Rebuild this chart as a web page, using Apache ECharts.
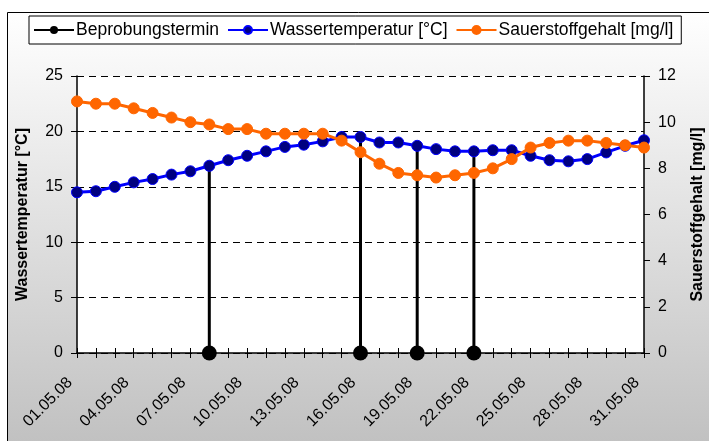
<!DOCTYPE html>
<html>
<head>
<meta charset="utf-8">
<script src="https://cdn.jsdelivr.net/npm/echarts@6/dist/echarts.min.js"></script>
<style>
  html, body { margin: 0; padding: 0; }
  #main { width: 709px; height: 441px; }
</style>
</head>
<body>
<div id="main"></div>
<script>
// Datum (Kategorien)
var dates = ['01.05.08','02.05.08','03.05.08','04.05.08','05.05.08','06.05.08','07.05.08','08.05.08',
  '09.05.08','10.05.08','11.05.08','12.05.08','13.05.08','14.05.08','15.05.08','16.05.08',
  '17.05.08','18.05.08','19.05.08','20.05.08','21.05.08','22.05.08','23.05.08','24.05.08',
  '25.05.08','26.05.08','27.05.08','28.05.08','29.05.08','30.05.08','31.05.08'];

// Wassertemperatur [°C]
var temp = [14.5, 14.6, 15.0, 15.4, 15.7, 16.1, 16.4, 16.9, 17.4, 17.8, 18.2, 18.6, 18.8, 19.1, 19.5, 19.5,
  19.0, 19.0, 18.7, 18.4, 18.2, 18.2, 18.3, 18.3, 17.8, 17.4, 17.3, 17.5, 18.1, 18.7, 19.2];

// Sauerstoffgehalt [mg/l]
var oxy = [10.9, 10.8, 10.8, 10.6, 10.4, 10.2, 10.0, 9.9, 9.7, 9.7, 9.5, 9.5, 9.5, 9.5, 9.2, 8.7,
  8.2, 7.8, 7.7, 7.6, 7.7, 7.8, 8.0, 8.4, 8.9, 9.1, 9.2, 9.2, 9.1, 9.0, 8.9];

// Beprobungstermine
var samples = ['08.05.08', '16.05.08', '19.05.08', '22.05.08'];

var sampleDots = dates.map(function (d) { return samples.indexOf(d) >= 0 ? 0 : null; });
var sampleBars = dates.map(function (d, i) { return samples.indexOf(d) >= 0 ? temp[i] : null; });

var myChart = echarts.init(document.getElementById('main'));

var font = 'Liberation Sans, Arial, sans-serif';

var option = {
  animation: false,
  graphic: [{
    type: 'rect',
    z: -10,
    silent: true,
    shape: { x: 7.5, y: 12.5, width: 720, height: 450 },
    style: {
      fill: {
        type: 'linear', x: 0, y: 0, x2: 0, y2: 1,
        colorStops: [{ offset: 0, color: '#ffffff' }, { offset: 1, color: '#bebebe' }]
      },
      stroke: '#000',
      lineWidth: 1
    }
  }],
  legend: {
    left: 29,
    top: 16,
    width: 657,
    height: 30,
    padding: [5, 8, 5, 4],
    backgroundColor: '#fff',
    borderColor: '#000',
    borderWidth: 1,
    borderRadius: 0,
    itemWidth: 40,
    itemHeight: 10,
    itemGap: 8,
    textStyle: { fontFamily: font, fontSize: 17.5, color: '#000', padding: [0, 0, 0, -3] },
    data: ['Beprobungstermin', 'Wassertemperatur [°C]', 'Sauerstoffgehalt [mg/l]']
  },
  grid: {
    left: 77, right: 65, top: 76, bottom: 88,
    outerBoundsMode: 'none',
    containLabel: false,
    show: true, backgroundColor: '#fff', borderWidth: 0
  },
  xAxis: [{
    type: 'category',
    data: dates,
    boundaryGap: false,
    axisLine: { lineStyle: { color: '#000', width: 1.5 } },
    axisTick: { interval: 0, length: 5, lineStyle: { color: '#000' } },
    axisLabel: {
      interval: 2, rotate: 45, margin: 20, padding: [0, 10, 0, 0],
      fontFamily: font, fontSize: 16, color: '#000'
    },
    splitLine: { show: false }
  }, {
    type: 'category',
    data: dates,
    boundaryGap: false,
    position: 'bottom',
    axisLine: { show: false },
    axisTick: { interval: 0, inside: true, length: 5, lineStyle: { color: '#000' } },
    axisLabel: { show: false },
    splitLine: { show: false }
  }],
  yAxis: [{
    type: 'value',
    min: 0, max: 25, interval: 5,
    name: 'Wassertemperatur [°C]',
    nameLocation: 'middle',
    nameGap: 46,
    nameTextStyle: { fontFamily: font, fontSize: 16, fontWeight: 'bold', color: '#000' },
    axisLine: { show: true, lineStyle: { color: '#000', width: 1.5 } },
    axisTick: { show: true, length: 6, lineStyle: { color: '#000' } },
    axisLabel: { margin: 14, fontFamily: font, fontSize: 16, color: '#000' },
    splitLine: { lineStyle: { color: '#000', type: [7, 5], width: 1 } }
  }, {
    type: 'value',
    min: 0, max: 12, interval: 2,
    name: 'Sauerstoffgehalt [mg/l]',
    nameLocation: 'middle',
    nameGap: 46,
    nameRotate: 90,
    nameTextStyle: { fontFamily: font, fontSize: 16, fontWeight: 'bold', color: '#000' },
    axisLine: { show: true, lineStyle: { color: '#000', width: 1.5 } },
    axisTick: { show: true, length: 6, lineStyle: { color: '#000' } },
    axisLabel: { margin: 14, fontFamily: font, fontSize: 16, color: '#000' },
    splitLine: { show: false }
  }],
  series: [
    {
      name: 'Probenahme',
      type: 'bar',
      data: sampleBars,
      barWidth: 3,
      itemStyle: { color: '#000' },
      z: 1
    },
    {
      name: 'Wassertemperatur [°C]',
      type: 'line',
      yAxisIndex: 0,
      data: temp,
      symbol: 'circle',
      symbolSize: 11,
      lineStyle: { color: '#0000ff', width: 3 },
      itemStyle: { color: '#000080', borderColor: '#0000ff', borderWidth: 1 },
      z: 3
    },
    {
      name: 'Sauerstoffgehalt [mg/l]',
      type: 'line',
      yAxisIndex: 1,
      data: oxy,
      symbol: 'circle',
      symbolSize: 11,
      lineStyle: { color: '#ff6600', width: 3 },
      itemStyle: { color: '#ff6600', borderColor: '#ff6600', borderWidth: 1 },
      z: 4
    },
    {
      name: 'Beprobungstermin',
      type: 'line',
      yAxisIndex: 0,
      data: sampleDots,
      connectNulls: false,
      showAllSymbol: true,
      symbol: 'circle',
      symbolSize: 15,
      lineStyle: { color: '#000', width: 3 },
      itemStyle: { color: '#000' },
      z: 5
    }
  ]
};

myChart.setOption(option);
</script>
</body>
</html>
